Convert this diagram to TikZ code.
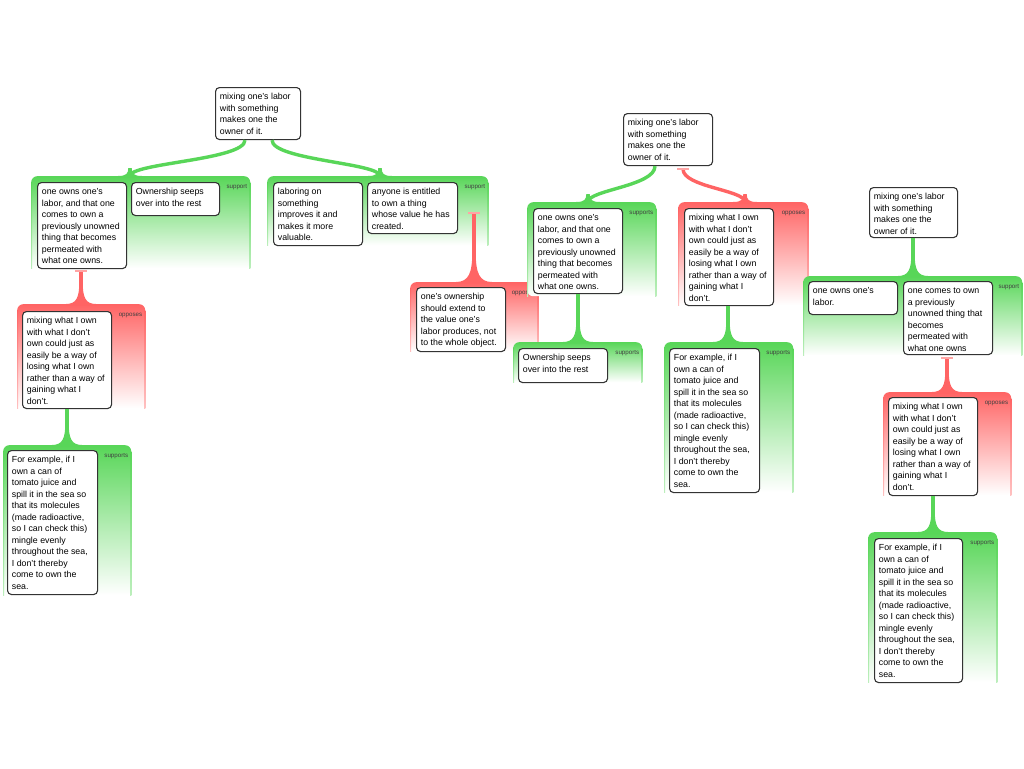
\documentclass[tikz,border=0pt]{standalone}
\usepackage{fontspec}
\setmainfont{Liberation Sans}
\definecolor{agreen}{RGB}{88,214,88}
\definecolor{ared}{RGB}{255,100,100}
\definecolor{abar}{RGB}{255,165,165}
\tikzset{
  argbox/.style={draw=black!80, line width=1.1pt, fill=white, rounded corners=4pt, inner sep=0pt, anchor=north west},
  argtext/.style={inner sep=0pt, anchor=north west, align=left, font=\fontsize{8.8}{11.5}\selectfont},
  grp/.style={draw=none, inner sep=0pt, anchor=north west, rounded corners=6pt, bottom color=white},
  tag/.style={inner sep=0pt, anchor=east, font=\fontsize{6.2}{7}\selectfont, text=black!75},
  conn/.style={line width=3.4pt},
  tbar/.style={abar, line width=2pt}
}
\newcommand\argnode[6]{%
  \node[argbox, minimum width={#4-#2}, minimum height={#5-#3}] (#1) at (#2,#3) {};
  \node[argtext] (#1-t) at ([xshift=4.7pt,yshift=-4pt]#1.north west) {\rule{0pt}{8.5pt}#6};}
\newcommand\arggroup[7]{%
  \node[grp, top color=#2, minimum width={#5-#3}, minimum height={#6-#4}] (#1) at (#3,#4) {};
  \shade[top color=#2, bottom color=#2!40] ([yshift=-6pt]#1.north west) rectangle ([xshift=1.2pt]#1.south west);
  \shade[top color=#2, bottom color=#2!40] ([yshift=-6pt]#1.north east) rectangle ([xshift=-1.2pt]#1.south east);
  \node[tag] (#1-l) at ([xshift=-3pt,yshift=-11pt]#1.north east) {#7};}
\newcommand\flare[4]{%
  \fill[#1, shift={(#2)}] (-1.7,-#3) .. controls (-1.7,-#3*0.3) and (-#4*0.3,0) .. (-#4,0) -- (-#4,1) -- (#4,1) -- (#4,0) .. controls (#4*0.3,0) and (1.7,-#3*0.3) .. (1.7,-#3) -- cycle;}
\begin{document}
\begin{tikzpicture}[x=1pt,y=-1pt]
\useasboundingbox (0,0) rectangle (1024,768);
\fill[white] (0,0) rectangle (1024,768);
% ---------------- tree 1
\arggroup{G1}{agreen}{31}{176}{250}{268}{support}
\arggroup{G2}{agreen}{267}{176}{488}{245}{support}
\arggroup{R3}{ared}{410}{282}{538}{351}{opposes}
\arggroup{R4}{ared}{17}{304}{145}{408}{opposes}
\arggroup{G5}{agreen}{3}{445}{131}{595}{supports}
\argnode{root1}{215}{87}{300}{139}{mixing one's labor\\with something\\makes one the\\owner of it.}
\coordinate (c1s) at ([xshift=30pt]root1.south west);
\coordinate (c1e) at ([xshift=99pt]G1.north west);
\draw[conn, agreen] (c1s) .. controls +(0,20) and +(0,-13) .. (c1e);
\flare{agreen}{c1e}{8}{12}
\coordinate (c2s) at ([xshift=57pt]root1.south west);
\coordinate (c2e) at ([xshift=113pt]G2.north west);
\draw[conn, agreen] (c2s) .. controls +(0,20) and +(0,-13) .. (c2e);
\flare{agreen}{c2e}{8}{12}
\coordinate (c3s) at ([xshift=207pt,yshift=-37pt]G2.north west);
\coordinate (c3e) at (c3s |- R3.north);
\draw[conn, ared] (c3s) -- (c3e);
\flare{ared}{c3e}{30}{18}
\draw[tbar] ([xshift=-6pt]c3s) -- ([xshift=6pt]c3s);
\coordinate (c4s) at ([xshift=50pt,yshift=-3pt]G1.south west);
\coordinate (c4e) at (c4s |- R4.north);
\draw[conn, ared] (c4s) -- (c4e);
\flare{ared}{c4e}{22}{15}
\draw[tbar] ([xshift=-6pt]c4s) -- ([xshift=6pt]c4s);
\argnode{b1a}{37}{182}{126}{268}{one owns one's\\labor, and that one\\comes to own a\\previously unowned\\thing that becomes\\permeated with\\what one owns.}
\argnode{b1b}{131}{182}{219}{215}{Ownership seeps\\over into the rest}
\argnode{b2a}{273}{182}{362}{245}{laboring on\\something\\improves it and\\makes it more\\valuable.}
\argnode{b2b}{367}{182}{457}{233}{anyone is entitled\\to own a thing\\whose value he has\\created.}
\argnode{b3}{416}{287}{505}{351}{one's ownership\\should extend to\\the value one's\\labor produces, not\\to the whole object.}
\argnode{b4}{22}{311}{111}{408}{mixing what I own\\with what I don't\\own could just as\\easily be a way of\\losing what I own\\rather than a way of\\gaining what I\\don't.}
\coordinate (c5s) at ([xshift=45pt]b4.south west);
\coordinate (c5e) at (c5s |- G5.north);
\draw[conn, agreen] (c5s) -- (c5e);
\flare{agreen}{c5e}{22}{15}
\argnode{b5}{7}{450}{97}{594}{For example, if I\\own a can of\\tomato juice and\\spill it in the sea so\\that its molecules\\(made radioactive,\\so I can check this)\\mingle evenly\\throughout the sea,\\I don't thereby\\come to own the\\sea.}
% ---------------- tree 2
\arggroup{GA}{agreen}{527}{202}{656}{296}{supports}
\arggroup{GB}{agreen}{513}{342}{642}{382}{supports}
\arggroup{RC}{ared}{678}{202}{808}{305}{opposes}
\arggroup{GD}{agreen}{664}{342}{793}{492}{supports}
\argnode{root2}{623}{113}{712}{165}{mixing one's labor\\with something\\makes one the\\owner of it.}
\coordinate (c6s) at ([xshift=32pt]root2.south west);
\coordinate (c6e) at ([xshift=61pt]GA.north west);
\draw[conn, agreen] (c6s) .. controls +(0,20) and +(0,-12) .. (c6e);
\flare{agreen}{c6e}{8}{12}
\coordinate (c7s) at ([xshift=60pt,yshift=-3pt]root2.south west);
\coordinate (c7e) at ([xshift=67pt]RC.north west);
\draw[conn, ared] (c7s) .. controls +(0,18) and +(0,-12) .. (c7e);
\flare{ared}{c7e}{8}{12}
\draw[tbar] ([xshift=-6pt]c7s) -- ([xshift=6pt]c7s);
\argnode{bA}{533}{208}{622}{293}{one owns one's\\labor, and that one\\comes to own a\\previously unowned\\thing that becomes\\permeated with\\what one owns.}
\coordinate (c8s) at ([xshift=45pt]bA.south west);
\coordinate (c8e) at (c8s |- GB.north);
\draw[conn, agreen] (c8s) -- (c8e);
\flare{agreen}{c8e}{22}{15}
\argnode{bB}{518}{348}{607}{382}{Ownership seeps\\over into the rest}
\argnode{bC}{684}{208}{773}{305}{mixing what I own\\with what I don't\\own could just as\\easily be a way of\\losing what I own\\rather than a way of\\gaining what I\\don't.}
\coordinate (c9s) at ([xshift=44pt]bC.south west);
\coordinate (c9e) at (c9s |- GD.north);
\draw[conn, agreen] (c9s) -- (c9e);
\flare{agreen}{c9e}{22}{15}
\argnode{bD}{669}{348}{759}{492}{For example, if I\\own a can of\\tomato juice and\\spill it in the sea so\\that its molecules\\(made radioactive,\\so I can check this)\\mingle evenly\\throughout the sea,\\I don't thereby\\come to own the\\sea.}
% ---------------- tree 3
\arggroup{GE}{agreen}{803}{276}{1022}{355}{support}
\arggroup{RF}{ared}{883}{392}{1011}{495}{opposes}
\arggroup{GG}{agreen}{868}{532}{997}{682}{supports}
\argnode{root3}{869}{187}{957}{237}{mixing one's labor\\with something\\makes one the\\owner of it.}
\coordinate (c10s) at ([xshift=44pt]root3.south west);
\coordinate (c10e) at (c10s |- GE.north);
\draw[conn, agreen] (c10s) -- (c10e);
\flare{agreen}{c10e}{22}{15}
\coordinate (c11s) at ([xshift=144pt,yshift=-3pt]GE.south west);
\coordinate (c11e) at (c11s |- RF.north);
\draw[conn, ared] (c11s) -- (c11e);
\flare{ared}{c11e}{22}{15}
\draw[tbar] ([xshift=-6pt]c11s) -- ([xshift=6pt]c11s);
\argnode{bE1}{808}{281}{897}{314}{one owns one's\\labor.}
\argnode{bE2}{903}{281}{992}{354}{one comes to own\\a previously\\unowned thing that\\becomes\\permeated with\\what one owns}
\argnode{bF}{888}{397}{977}{495}{mixing what I own\\with what I don't\\own could just as\\easily be a way of\\losing what I own\\rather than a way of\\gaining what I\\don't.}
\coordinate (c12s) at ([xshift=45pt]bF.south west);
\coordinate (c12e) at (c12s |- GG.north);
\draw[conn, agreen] (c12s) -- (c12e);
\flare{agreen}{c12e}{22}{15}
\argnode{bG}{874}{538}{962}{682}{For example, if I\\own a can of\\tomato juice and\\spill it in the sea so\\that its molecules\\(made radioactive,\\so I can check this)\\mingle evenly\\throughout the sea,\\I don't thereby\\come to own the\\sea.}
\end{tikzpicture}
\end{document}
